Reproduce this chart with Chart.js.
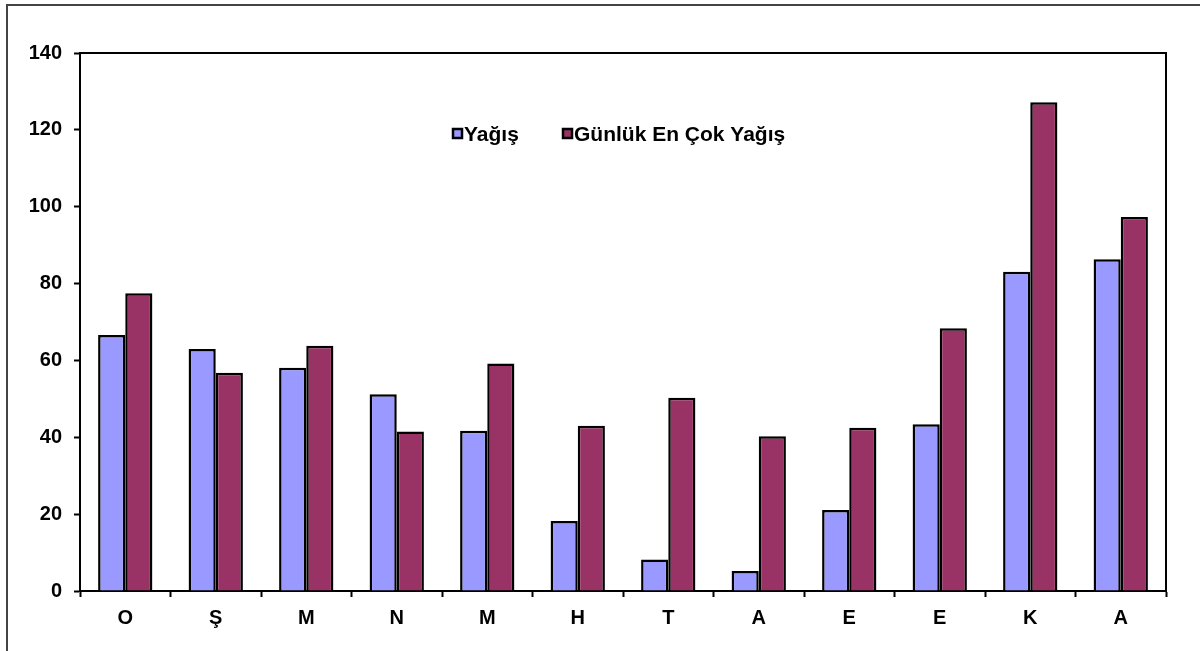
<!DOCTYPE html>
<html>
<head>
<meta charset="utf-8">
<script src="https://cdn.jsdelivr.net/npm/chart.js@4/dist/chart.umd.min.js"></script>
<style>
  html, body { margin: 0; padding: 0; background: #fff; overflow: hidden; }
  canvas { display: block; }
</style>
</head>
<body>
<canvas id="rainChart" width="1200" height="651"></canvas>
<script>
// aylar (Ekim'den Eylül'e)
const months = ['O', 'Ş', 'M', 'N', 'M', 'H', 'T', 'A', 'E', 'E', 'K', 'A'];
const yagis = [66.6, 63.0, 58.1, 51.2, 41.7, 18.2, 8.2, 5.2, 21.1, 43.4, 83.1, 86.3];
const gunlukEnCok = [77.5, 56.8, 63.8, 41.5, 59.2, 43.0, 50.3, 40.3, 42.5, 68.4, 127.2, 97.3];
const yTicks = [0, 20, 40, 60, 80, 100, 120, 140];

const tickFont = { family: 'Liberation Sans, Arial, sans-serif', size: 20, weight: 'bold' };

// outer frame + plot border + legend drawn inside plot
const framePlugin = {
  id: 'frame',
  beforeDraw(chart) {
    const ctx = chart.ctx;
    ctx.save();
    ctx.fillStyle = '#fff';
    ctx.fillRect(0, 0, chart.width, chart.height);
    ctx.strokeStyle = '#444';
    ctx.lineWidth = 2;
    ctx.strokeRect(7, 5, chart.width + 10, chart.height + 10);
    ctx.restore();
  },
  afterDraw(chart) {
    const ctx = chart.ctx;
    const a = chart.chartArea;
    ctx.save();
    ctx.strokeStyle = '#000';
    ctx.lineWidth = 2;
    ctx.beginPath();
    ctx.moveTo(a.left, a.top);
    ctx.lineTo(a.right, a.top);
    ctx.lineTo(a.right, a.bottom);
    ctx.stroke();

    // legend
    ctx.font = 'bold 21px Liberation Sans, Arial, sans-serif';
    ctx.textBaseline = 'middle';
    const items = [{ x: 453 }, { x: 563 }];
    chart.data.datasets.forEach((ds, i) => {
      const x = items[i].x, y = 134;
      ctx.fillStyle = ds.backgroundColor;
      ctx.fillRect(x, y - 5, 9, 9);
      ctx.lineWidth = 2.5;
      ctx.strokeStyle = '#000';
      ctx.strokeRect(x, y - 5, 9, 9);
      ctx.fillStyle = '#000';
      ctx.fillText(ds.label, x + 11, y + 1);
    });
    ctx.restore();
  }
};

new Chart(document.getElementById('rainChart').getContext('2d'), {
  type: 'bar',
  data: {
    labels: months,
    datasets: [
      {
        label: 'Yağış',
        data: yagis,
        backgroundColor: '#9999FF',
        borderColor: '#000',
        borderWidth: 2.5,
        categoryPercentage: 0.6,
        barPercentage: 1.0
      },
      {
        label: 'Günlük En Çok Yağış',
        data: gunlukEnCok,
        backgroundColor: '#993366',
        borderColor: '#000',
        borderWidth: 2.5,
        categoryPercentage: 0.6,
        barPercentage: 1.0
      }
    ]
  },
  options: {
    responsive: false,
    animation: false,
    devicePixelRatio: 1,
    layout: { padding: { left: 0, top: 53, right: 34, bottom: 0 } },
    plugins: {
      legend: { display: false },
      tooltip: { enabled: false }
    },
    scales: {
      x: {
        afterFit(scale) { scale.height = 60; },
        grid: {
          offset: true,
          drawOnChartArea: false,
          drawTicks: true,
          tickLength: 6,
          tickWidth: 2,
          tickColor: '#000'
        },
        border: { display: true, color: '#000', width: 2 },
        ticks: { color: '#000', font: tickFont, padding: 9, maxRotation: 0, autoSkip: false }
      },
      y: {
        min: 0,
        max: 140,
        afterFit(scale) { scale.width = 80; },
        afterBuildTicks(scale) { scale.ticks = yTicks.map(v => ({ value: v })); },
        grid: {
          drawOnChartArea: false,
          drawTicks: true,
          tickLength: 6,
          tickWidth: 2,
          tickColor: '#000'
        },
        border: { display: true, color: '#000', width: 2 },
        ticks: { color: '#000', font: tickFont, padding: 12 }
      }
    }
  },
  plugins: [framePlugin]
});
</script>
</body>
</html>
